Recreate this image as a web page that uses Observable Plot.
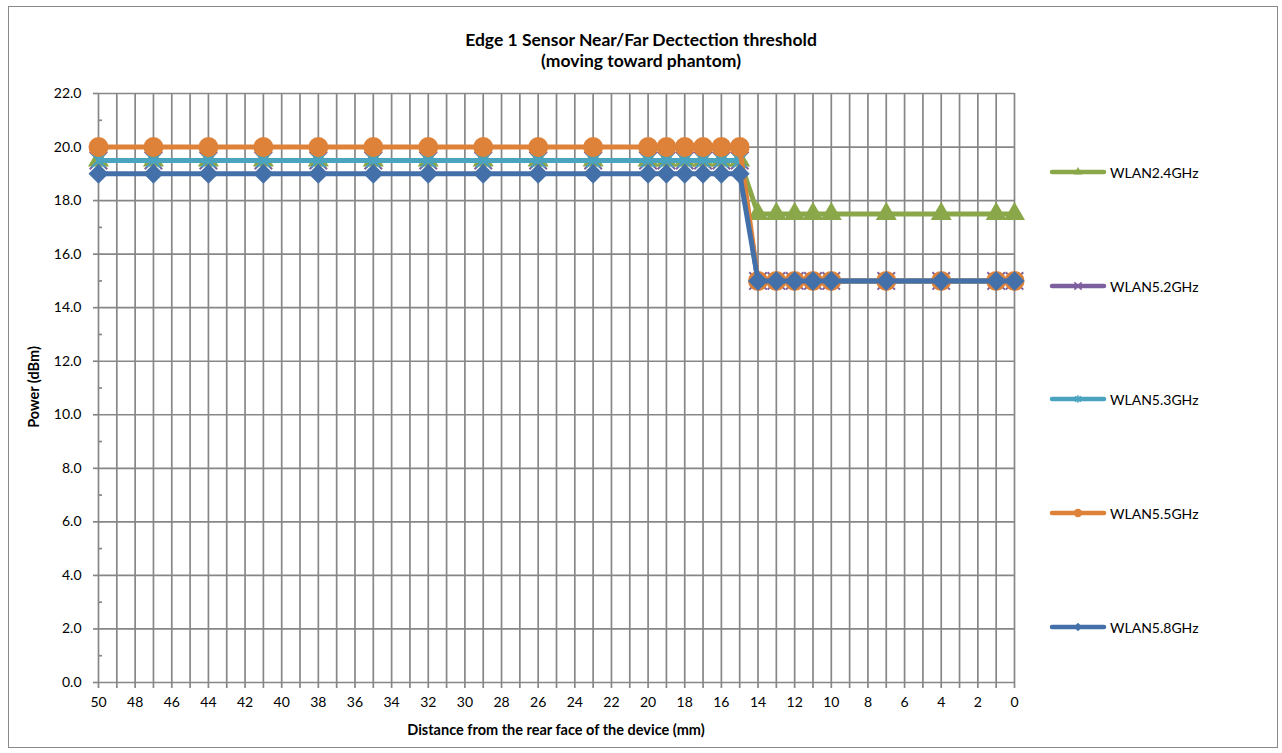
<!DOCTYPE html>
<html>
<head>
<meta charset="utf-8">
<script src="https://cdn.jsdelivr.net/npm/d3@7"></script>
<script src="https://cdn.jsdelivr.net/npm/@observablehq/plot@0.6"></script>
<style>
  body { margin: 0; background: #fff; }
  #chart { position: relative; width: 1282px; height: 753px; font-family: Lato, "Open Sans", sans-serif; color: #000; overflow: hidden; }
  #chart svg.plot { position: absolute; left: 0; top: 0; }
  #frame { position: absolute; left: 8px; top: 6px; width: 1270px; height: 742px; border: 1px solid #8a8a8a; box-sizing: border-box; }
  #title { position: absolute; left: 0; top: 29px; width: 1282px; text-align: center; font-weight: bold; font-size: 17.5px; line-height: 21px; }
  .axis-title { position: absolute; font-weight: bold; font-size: 14.5px; white-space: nowrap; }
  #ytitle { left: 33px; top: 387px; transform: translate(-50%, -50%) rotate(-90deg); }
  #xtitle { left: 556px; top: 729px; transform: translate(-50%, -50%); }
  .legend-item { position: absolute; left: 1048px; height: 20px; display: flex; align-items: center; font-size: 14px; transform: translateY(-50%); }
  .legend-item svg { display: block; margin-right: 2px; }
</style>
</head>
<body>
<div id="chart">
  <div id="frame"></div>
  <div id="title">Edge 1 Sensor Near/Far Dectection threshold<br>(moving toward phantom)</div>
  <div class="axis-title" id="ytitle">Power (dBm)</div>
  <div class="axis-title" id="xtitle">Distance from the rear face of the device (mm)</div>
</div>
<script>
// Measurement positions (mm from the rear face of the device)
const distance = [50, 47, 44, 41, 38, 35, 32, 29, 26, 23, 20, 19, 18, 17, 16, 15, 14, 13, 12, 11, 10, 7, 4, 1, 0];

// Output power per band (dBm)
const wlan24 = [19.5, 19.5, 19.5, 19.5, 19.5, 19.5, 19.5, 19.5, 19.5, 19.5, 19.5, 19.5, 19.5, 19.5, 19.5, 19.5, 17.5, 17.5, 17.5, 17.5, 17.5, 17.5, 17.5, 17.5, 17.5];
const wlan52 = [19.5, 19.5, 19.5, 19.5, 19.5, 19.5, 19.5, 19.5, 19.5, 19.5, 19.5, 19.5, 19.5, 19.5, 19.5, 19.5, 15, 15, 15, 15, 15, 15, 15, 15, 15];
const wlan53 = [19.5, 19.5, 19.5, 19.5, 19.5, 19.5, 19.5, 19.5, 19.5, 19.5, 19.5, 19.5, 19.5, 19.5, 19.5, 19.5, 15, 15, 15, 15, 15, 15, 15, 15, 15];
const wlan55 = [20, 20, 20, 20, 20, 20, 20, 20, 20, 20, 20, 20, 20, 20, 20, 20, 15, 15, 15, 15, 15, 15, 15, 15, 15];
const wlan58 = [19, 19, 19, 19, 19, 19, 19, 19, 19, 19, 19, 19, 19, 19, 19, 19, 15, 15, 15, 15, 15, 15, 15, 15, 15];

const seriesNames = ["WLAN2.4GHz", "WLAN5.2GHz", "WLAN5.3GHz", "WLAN5.5GHz", "WLAN5.8GHz"];
const seriesValues = [wlan24, wlan52, wlan53, wlan55, wlan58];

// Axis ticks
const xGridTicks = [50, 49, 48, 47, 46, 45, 44, 43, 42, 41, 40, 39, 38, 37, 36, 35, 34, 33, 32, 31, 30, 29, 28, 27, 26, 25, 24, 23, 22, 21, 20, 19, 18, 17, 16, 15, 14, 13, 12, 11, 10, 9, 8, 7, 6, 5, 4, 3, 2, 1, 0];
const yMajorTicks = [0, 2, 4, 6, 8, 10, 12, 14, 16, 18, 20, 22];
const yMinorTicks = [1, 3, 5, 7, 9, 11, 13, 15, 17, 19, 21];

// Styling per series
const colors = ["#8aa84a", "#7d5f9f", "#4aa3bf", "#de823a", "#4470aa"];

// Excel-style star marker: an x crossed by a vertical bar
const star = {
  draw(context, size) {
    const r = Math.sqrt(size / Math.PI);
    const d = r * 0.75;
    context.moveTo(-d, -d); context.lineTo(d, d);
    context.moveTo(-d, d); context.lineTo(d, -d);
    context.moveTo(0, -r); context.lineTo(0, r);
  }
};

const markerStyles = [
  {symbol: "triangle", r: 7.8, fill: true},
  {symbol: "times", r: 8, fill: false},
  {symbol: star, r: 9, fill: false},
  {symbol: "circle", r: 10, fill: true},
  {symbol: "diamond2", r: 9, fill: true}
];

const rows = seriesNames.map((name, i) =>
  distance.map((d, j) => ({series: name, distance: d, power: seriesValues[i][j]}))
);

const gridColor = "#878787";

const seriesMarks = rows.flatMap((data, i) => {
  const m = markerStyles[i];
  return [
    Plot.line(data, {x: "distance", y: "power", stroke: colors[i], strokeWidth: 5, strokeLinejoin: "round", strokeLinecap: "round"}),
    Plot.dot(data, {
      x: "distance", y: "power", symbol: () => m.symbol, r: m.r,
      fill: m.fill ? colors[i] : "none",
      stroke: colors[i], strokeWidth: m.fill ? 0 : 2
    })
  ];
});

const plot = Plot.plot({
  width: 1282,
  height: 753,
  marginLeft: 98,
  marginRight: 268,
  marginTop: 93,
  marginBottom: 71,
  style: {fontFamily: "Lato, 'Open Sans', sans-serif", fontSize: "14px", color: "#000", background: "transparent"},
  x: {domain: [50, 0], label: null},
  y: {domain: [0, 22], label: null},
  marks: [
    Plot.gridX(xGridTicks, {stroke: gridColor, strokeOpacity: 1, strokeWidth: 1.7}),
    Plot.gridY(yMajorTicks, {stroke: gridColor, strokeOpacity: 1, strokeWidth: 1.7}),
    Plot.tickY(yMinorTicks, {y: d => d, stroke: gridColor, strokeWidth: 1.7, insetRight: 912}),
    Plot.axisX(xGridTicks, {
      tickSize: 6, tickPadding: 9, stroke: gridColor, strokeWidth: 1.7,
      tickFormat: d => (d % 2 === 0 ? String(d) : ""), label: null, fill: "#000"
    }),
    Plot.axisY(yMajorTicks, {
      tickSize: 5, tickPadding: 12, stroke: gridColor, strokeWidth: 1.7,
      tickFormat: d3.format(".1f"), label: null, fill: "#000"
    }),
    ...seriesMarks
  ]
});
plot.classList.add("plot");
document.getElementById("chart").insertBefore(plot, document.getElementById("title"));

// Legend on the right, one entry per series
const legendY = [172, 286, 399, 513, 627];
const chart = document.getElementById("chart");
seriesNames.forEach((name, i) => {
  const item = document.createElement("div");
  item.className = "legend-item";
  item.style.top = legendY[i] + "px";
  const svg = d3.create("svg").attr("width", 60).attr("height", 20);
  svg.append("line").attr("x1", 4).attr("x2", 56).attr("y1", 10).attr("y2", 10)
    .attr("stroke", colors[i]).attr("stroke-width", 4.5).attr("stroke-linecap", "round");
  const m = markerStyles[i];
  const symType = typeof m.symbol === "string"
    ? ({triangle: d3.symbolTriangle, times: d3.symbolTimes, circle: d3.symbolCircle, diamond2: d3.symbolDiamond2})[m.symbol]
    : m.symbol;
  const rr = m.r * 0.42;
  svg.append("path")
    .attr("transform", "translate(30,10)")
    .attr("d", d3.symbol(symType, rr * rr * Math.PI)())
    .attr("fill", m.fill ? colors[i] : "none")
    .attr("stroke", colors[i])
    .attr("stroke-width", m.fill ? 0 : 1.5);
  item.appendChild(svg.node());
  const label = document.createElement("span");
  label.textContent = name;
  item.appendChild(label);
  chart.appendChild(item);
});
</script>
</body>
</html>
